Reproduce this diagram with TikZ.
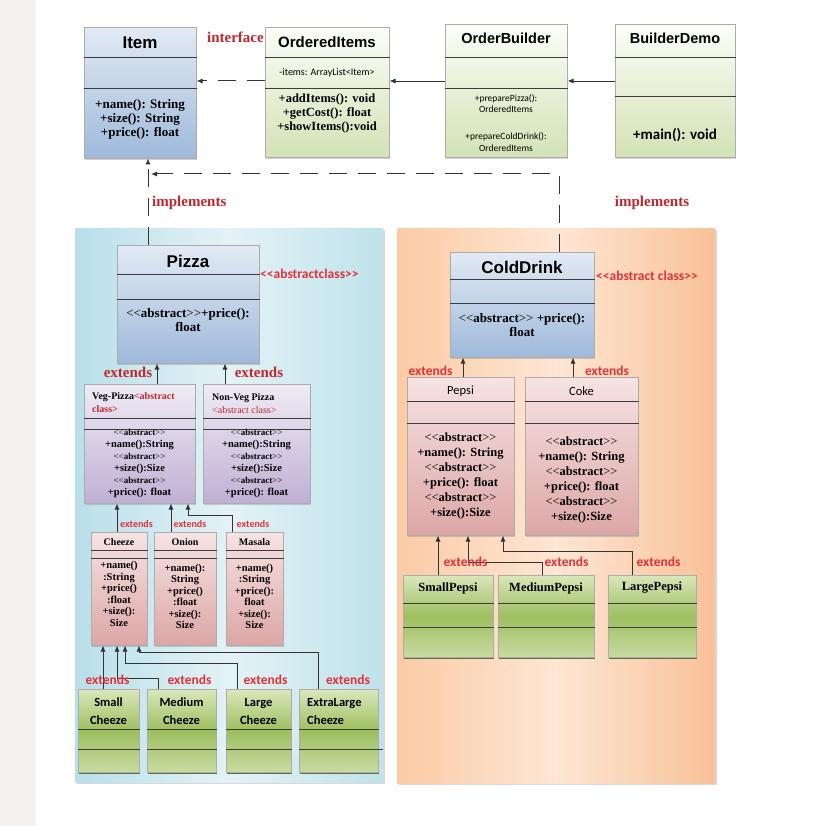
\documentclass[tikz,border=0pt]{standalone}
\usepackage{fontspec}
\setmainfont{Liberation Serif}
\newfontfamily\arialf{Liberation Sans}
\newfontfamily\calf{Carlito}
\usetikzlibrary{arrows.meta,shadows}
\definecolor{stripc}{HTML}{F4F1F1}
\definecolor{redA}{HTML}{C0272D}
\definecolor{redB}{HTML}{E2323A}
\definecolor{lineC}{HTML}{333333}
\definecolor{divC}{HTML}{3C3C3C}
\definecolor{blueT}{HTML}{E2EAF4}
\definecolor{blueB}{HTML}{9FB9DB}
\definecolor{gwT}{HTML}{FBFDF7}
\definecolor{gwB}{HTML}{D3E2B6}
\definecolor{purT}{HTML}{EFEBF5}
\definecolor{purB}{HTML}{BFB0D4}
\definecolor{pinkT}{HTML}{F6E3E3}
\definecolor{pinkB}{HTML}{DDA6A6}
\definecolor{grT}{HTML}{D9E8BC}
\definecolor{grM}{HTML}{9EBF5E}
\definecolor{grB}{HTML}{C9DBA3}
\definecolor{grS}{HTML}{55692C}
\definecolor{plA}{HTML}{B9DFEA}
\definecolor{plB}{HTML}{E3F2F6}
\definecolor{plC}{HTML}{BFE2EB}
\definecolor{prA}{HTML}{FBCBA5}
\definecolor{prB}{HTML}{FDE6D4}
\definecolor{prC}{HTML}{F9C197}
\newcommand\fs[2]{\fontsize{#1}{#2}\selectfont}
\newcommand\LLt{<\kern0pt<}
\newcommand\GGt{>\kern0pt>}
\newcommand\absx{\LLt\textbf{abstract}\GGt}
\tikzset{
  cls/.style={draw=gray!65, line width=0.5pt, inner sep=0pt, anchor=north west,
    drop shadow={shadow xshift=1.2pt, shadow yshift=-1.5pt, opacity=0.35}},
  bluebox/.style={top color=blueT, bottom color=blueB},
  gwbox/.style={top color=gwT, bottom color=gwB},
  purbox/.style={top color=purT, bottom color=purB},
  pinkbox/.style={top color=pinkT, bottom color=pinkB},
  grbox/.style={top color=grT, bottom color=grB, middle color=grM,
    drop shadow={shadow xshift=1pt, shadow yshift=-2pt, fill=grS, opacity=0.9}},
  divl/.style={draw=divC, line width=0.9pt},
  txt/.style={inner sep=0pt, align=center},
  ext/.style={draw=lineC, line width=0.9pt, -{Latex[length=6pt,width=5pt]}},
  impl/.style={draw=lineC, line width=1pt, dash pattern=on 18pt off 11pt,
    -{Latex[length=6pt,width=5pt]}},
  tword/.style={inner sep=0pt, text=redA, font=\bfseries\fs{15}{17}},
  cword/.style={inner sep=0pt, text=redB, font=\calf\bfseries\fs{13.5}{15}},
  sword/.style={inner sep=0pt, text=redB, font=\calf\bfseries\fs{10}{12}},
}
\newcommand\umlbox[8]{%
  \node[cls,#8,minimum width={(#4-#2)*1pt},minimum height={(#5-#3)*1pt}] (#1) at (#2,#3) {};
  \draw[divl] (#1.west |- 0,#6) -- (#1.east |- 0,#6);
  \draw[divl] (#1.west |- 0,#7) -- (#1.east |- 0,#7);
}
\begin{document}
\begin{tikzpicture}[x=1pt,y=-1pt]
\useasboundingbox (0,0) rectangle (825,826);
\fill[white] (0,0) rectangle (825,826);
\fill[stripc] (0,0) rectangle (36,826);

% panels
\node[anchor=north west, inner sep=0pt, minimum width=308pt, minimum height=554pt,
  left color=plA, right color=plC, middle color=plB,
  drop shadow={shadow xshift=1.5pt, shadow yshift=-1.5pt, opacity=0.3}] (LeftPanel) at (75,228) {};
\node[anchor=north west, inner sep=0pt, minimum width=318pt, minimum height=555pt,
  left color=prA, right color=prC, middle color=prB,
  drop shadow={shadow xshift=1.5pt, shadow yshift=-1.5pt, opacity=0.3}] (RightPanel) at (397,228) {};

% ---------- top row ----------
\umlbox{Item}{84}{27}{196}{158}{57}{88}{bluebox}
\node[txt, font=\arialf\bfseries\fs{17}{20}] (ItemT) at (140,43) {Item};
\node[txt, font=\bfseries\fs{13}{14}] (ItemB) at (140,119) {+name(): String\\+size(): String\\+price(): float};

\umlbox{OrderedItems}{265}{27}{389}{157}{57}{88}{gwbox}
\node[txt, font=\arialf\bfseries\fs{15}{18}] (OIT) at (327,42) {OrderedItems};
\node[txt, font=\calf\fs{10}{12}] (OIA) at (327,73) {-items: ArrayList<Item>};
\node[txt, font=\bfseries\fs{12.5}{14}] (OIB) at (327,113) {+addItems(): void\\+getCost(): float\\+showItems():void};
\node[tword, anchor=east] (IfaceL) at (264,37) {interface};

\umlbox{OrderBuilder}{445}{24}{567}{157}{57}{88}{gwbox}
\node[txt, font=\arialf\bfseries\fs{14.5}{17}] (OBT) at (506,38) {OrderBuilder};
\node[txt, font=\calf\fs{9.5}{11.5}] (OBB1) at (506,103.5) {+preparePizza():\\OrderedItems};
\node[txt, font=\calf\fs{9.5}{11.5}] (OBB2) at (506,142) {+prepareColdDrink():\\OrderedItems};

\umlbox{BuilderDemo}{615}{24}{735}{157}{57}{96}{gwbox}
\node[txt, font=\arialf\bfseries\fs{14.5}{17}] (BDT) at (675,38) {BuilderDemo};
\node[txt, font=\calf\bfseries\fs{15}{17}] (BDB) at (675,135) {+main(): void};

\draw[impl] (OrderedItems.west |- 0,81) -- (Item.east |- 0,81);
\draw[ext] (OrderBuilder.west |- 0,81) -- (OrderedItems.east |- 0,81);
\draw[ext] (BuilderDemo.west |- 0,81) -- (OrderBuilder.east |- 0,81);

% ---------- Pizza side ----------
\umlbox{Pizza}{117}{245}{259}{363}{274}{299}{bluebox}
\node[txt, font=\arialf\bfseries\fs{17}{20}] (PizzaT) at (188,261) {Pizza};
\node[txt, font=\fs{13}{14}] (PizzaB) at (188,320) {\absx\textbf{+price():}\\\textbf{float}};
\node[inner sep=0pt, anchor=west, text=redB, font=\calf\bfseries\fs{13.5}{15}] (PizzaS) at (260,274) {\LLt abstractclass\GGt};

\umlbox{VegPizza}{84}{384}{195}{503}{418}{429}{purbox}
\node[inner sep=0pt, anchor=west, align=left, font=\bfseries\fs{10}{13}] (VegT) at (92,402.5)
  {Veg-Pizza\textcolor{redA}{<abstract}\\\textcolor{redA}{class>}};
\node[txt, font=\fs{10.5}{12}] (VegB) at (139.5,463)
  {{\fs{9}{12}\absx}\\\textbf{+name():String}\\{\fs{9}{12}\absx}\\\textbf{+size():Size}\\{\fs{9}{12}\absx}\\\textbf{+price(): float}};

\umlbox{NonVegPizza}{203}{384}{310}{503}{418}{429}{purbox}
\node[inner sep=0pt, anchor=west, align=left, font=\fs{10}{13}] (NVegT) at (212,403.5)
  {\textbf{Non-Veg Pizza}\\\textcolor{redA}{<abstract class>}};
\node[txt, font=\fs{10.5}{12}] (NVegB) at (256.5,463)
  {{\fs{9}{12}\absx}\\\textbf{+name():String}\\{\fs{9}{12}\absx}\\\textbf{+size():Size}\\{\fs{9}{12}\absx}\\\textbf{+price(): float}};

\draw[ext] (VegPizza.north -| 157,0) -- (Pizza.south -| 157,0);
\draw[ext] (NonVegPizza.north -| 225,0) -- (Pizza.south -| 225,0);
\node[tword] (ExtP1) at (128,372) {extends};
\node[tword] (ExtP2) at (259,372) {extends};

\umlbox{Cheeze}{91}{532}{147}{645}{550}{558}{pinkbox}
\node[txt, font=\bfseries\fs{10}{12}] (CheezeT) at (119,542) {Cheeze};
\node[txt, font=\bfseries\fs{10.5}{11.6}] (CheezeB) at (119,594) {+name()\\:String\\+price()\\:float\\+size():\\Size};
\umlbox{Onion}{154}{532}{216}{645}{550}{558}{pinkbox}
\node[txt, font=\bfseries\fs{10}{12}] (OnionT) at (185,542) {Onion};
\node[txt, font=\bfseries\fs{10.5}{11.4}] (OnionB) at (185,596.5) {+name():\\String\\+price()\\:float\\+size():\\Size};
\umlbox{Masala}{226}{532}{283}{645}{550}{558}{pinkbox}
\node[txt, font=\bfseries\fs{10}{12}] (MasalaT) at (254.5,542) {Masala};
\node[txt, font=\bfseries\fs{10.5}{11.4}] (MasalaB) at (254.5,596.5) {+name()\\:String\\+price():\\float\\+size():\\Size};

\draw[ext] (Cheeze.north -| 117,0) -- (VegPizza.south -| 117,0);
\draw[ext] (Onion.north -| 171,0) -- (VegPizza.south -| 171,0);
\draw[ext] (Masala.north -| 232,0) |- (188,515) -- (VegPizza.south -| 188,0);
\node[sword] (ExtC1) at (136.5,524) {extends};
\node[sword] (ExtC2) at (190,524) {extends};
\node[sword] (ExtC3) at (253,524) {extends};

\umlbox{SmallCheeze}{78}{689}{139}{772}{729}{749}{grbox}
\umlbox{MediumCheeze}{147}{689}{216}{772}{729}{749}{grbox}
\umlbox{LargeCheeze}{226}{689}{291}{772}{729}{749}{grbox}
\umlbox{XLCheeze}{299}{689}{378}{772}{729}{749}{grbox}
\draw[divl] (XLCheeze.east |- 0,749) -- (383,749);
\node[txt, font=\calf\bfseries\fs{12.5}{18}] (SCT) at (108.5,711) {Small\\Cheeze};
\node[txt, font=\calf\bfseries\fs{12.5}{18}] (MCT) at (181.5,711) {Medium\\Cheeze};
\node[txt, font=\calf\bfseries\fs{12.5}{18}] (LCT) at (258.5,711) {Large\\Cheeze};
\node[inner sep=0pt, anchor=west, align=left, font=\calf\bfseries\fs{12.5}{18}] (XCT) at (307,711) {ExtraLarge\\Cheeze};

\draw[ext] (SmallCheeze.north -| 103,0) -- (Cheeze.south -| 103,0);
\draw[ext] (MediumCheeze.north -| 158,0) |- (117,678) -- (Cheeze.south -| 117,0);
\draw[ext] (LargeCheeze.north -| 237,0) |- (125,663) -- (Cheeze.south -| 125,0);
\draw[ext] (XLCheeze.north -| 318,0) |- (139,652) -- (Cheeze.south -| 139,0);
\node[cword] (ExtSC) at (107.5,680) {extends};
\node[cword] (ExtMC) at (189.5,680) {extends};
\node[cword] (ExtLC) at (265.5,680) {extends};
\node[cword] (ExtXC) at (348,680) {extends};

% ---------- ColdDrink side ----------
\umlbox{ColdDrink}{450}{252}{594}{357}{279}{303}{bluebox}
\node[txt, font=\arialf\bfseries\fs{17}{20}] (CDT) at (522,267) {ColdDrink};
\node[txt, font=\fs{13}{14}] (CDB) at (522,325) {\absx\ \textbf{+price():}\\\textbf{float}};
\node[inner sep=0pt, anchor=west, text=redB, font=\calf\bfseries\fs{13.5}{15}] (CDS) at (596,276) {\LLt abstract class\GGt};

\umlbox{Pepsi}{407}{377}{514}{535}{401}{423}{pinkbox}
\node[txt, font=\calf\fs{12.5}{14}] (PepsiT) at (460.5,391) {Pepsi};
\node[txt, font=\fs{12.5}{15}] (PepsiB) at (460.5,475.5)
  {\absx\\\textbf{+name(): String}\\\absx\\\textbf{+price(): float}\\\absx\\\textbf{+size():Size}};
\umlbox{Coke}{525}{377}{638}{535}{401}{423}{pinkbox}
\node[txt, font=\calf\fs{12.5}{14}] (CokeT) at (581.5,391) {Coke};
\node[txt, font=\fs{12.5}{15}] (CokeB) at (581.5,479.5)
  {\absx\\\textbf{+name(): String}\\\absx\\\textbf{+price(): float}\\\absx\\\textbf{+size():Size}};

\draw[ext] (Pepsi.north -| 463,0) -- (ColdDrink.south -| 463,0);
\draw[ext] (Coke.north -| 573,0) -- (ColdDrink.south -| 573,0);
\node[cword] (ExtPe) at (430.5,371) {extends};
\node[cword] (ExtCo) at (607,371) {extends};

\umlbox{SmallPepsi}{403}{575}{493}{657}{603}{627}{grbox}
\umlbox{MediumPepsi}{498}{575}{594}{657}{603}{627}{grbox}
\umlbox{LargePepsi}{608}{575}{696}{657}{603}{627}{grbox}
\node[txt, font=\bfseries\fs{12.5}{14}] (SPT) at (448,588) {SmallPepsi};
\node[txt, font=\bfseries\fs{12.5}{14}] (MPT) at (546,588) {MediumPepsi};
\node[txt, font=\bfseries\fs{12.5}{14}] (LPT) at (652,588) {LargePepsi};

\draw[ext] (SmallPepsi.north -| 438,0) -- (Pepsi.south -| 438,0);
\draw[ext] (MediumPepsi.north -| 542,0) |- (468,562) -- (Pepsi.south -| 468,0);
\draw[ext] (LargePepsi.north -| 632,0) |- (503,551) -- (Pepsi.south -| 503,0);
\node[cword] (ExtSP) at (465.5,562) {extends};
\node[cword] (ExtMP) at (566.5,562) {extends};
\node[cword] (ExtLP) at (658.5,562) {extends};

% ---------- implements ----------
\coordinate (J) at (148,174);
\draw[impl] ([xshift=37pt]ColdDrink.north) |- ([xshift=3pt]J);
\draw[impl] (Pizza.north -| J) -- (Item.south -| J);
\node[tword, anchor=west] (ImplL) at (152,203) {implements};
\node[tword] (ImplR) at (652,203) {implements};
\end{tikzpicture}
\end{document}
